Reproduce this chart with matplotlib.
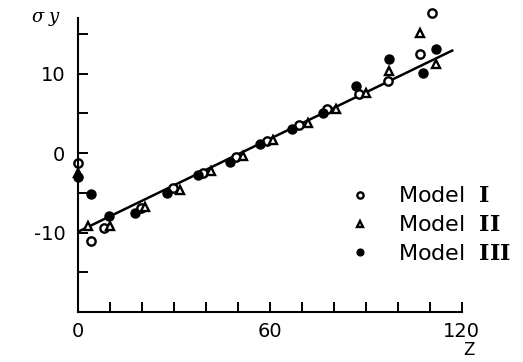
import numpy as np
import matplotlib.pyplot as plt
from matplotlib.ticker import MultipleLocator, FixedLocator

plt.rcParams['mathtext.fontset'] = 'dejavuserif'
plt.rcParams['axes.unicode_minus'] = False

# values
z_m1 = [0, 4, 8, 19.7, 29.7, 39, 49.4, 59, 69, 78, 87.8, 97, 107, 110.6]
s_m1 = [-1.2, -11.0, -9.4, -6.9, -4.4, -2.5, -0.5, 1.5, 3.5, 5.5, 7.4, 9.1, 12.5, 17.6]

z_m2 = [0, 3, 10, 21, 31.9, 41.6, 51.6, 61, 72, 80.6, 90, 97.3, 107, 112]
s_m2 = [-2.5, -9.2, -9.2, -6.75, -4.6, -2.25, -0.4, 1.6, 3.75, 5.6, 7.6, 10.4, 15.1, 11.2]

z_m3 = [0, 4, 9.7, 17.8, 27.8, 37.5, 47.5, 57, 67, 76.6, 86.9, 97.3, 108, 112]
s_m3 = [-3.0, -5.1, -7.9, -7.5, -5.0, -2.75, -1.1, 1.1, 3.1, 5.1, 8.5, 11.9, 10.1, 13.1]

# fitted line
fit_intercept = -9.9
fit_slope = 0.195
fit_z = [0, 117]

labels = [r"Model  $\mathbf{I}$", r"Model  $\mathbf{II}$", r"Model  $\mathbf{III}$"]

fig = plt.figure(figsize=(5.23, 3.62), dpi=100)
ax = fig.add_axes([0.149, 0.138, 0.734, 0.812])

zz = np.array(fit_z)
ax.plot(zz, fit_intercept + fit_slope * zz, color='black', lw=1.8)

ax.plot(z_m1, s_m1, 'o', ls='none', mfc='white', mec='black', ms=6, mew=1.7,
        clip_on=False, label=labels[0])
ax.plot(z_m2, s_m2, '^', ls='none', mfc='white', mec='black', ms=6, mew=1.7,
        clip_on=False, label=labels[1])
ax.plot(z_m3, s_m3, 'o', ls='none', mfc='black', mec='black', ms=6.5,
        clip_on=False, label=labels[2])

ax.set_xlim(0, 120)
ax.set_ylim(-20, 17)

for s in ['top', 'right']:
    ax.spines[s].set_visible(False)
for s in ['left', 'bottom']:
    ax.spines[s].set_linewidth(1.5)

ax.xaxis.set_major_locator(FixedLocator([0, 60, 120]))
ax.xaxis.set_minor_locator(MultipleLocator(10))
ax.yaxis.set_major_locator(FixedLocator([-10, 0, 10]))
ax.yaxis.set_minor_locator(MultipleLocator(5))
ax.tick_params(which='both', direction='in', length=7, width=1.4, labelsize=14)
ax.tick_params(axis='x', pad=7)
ax.tick_params(axis='y', pad=9)

leg = ax.legend(loc='upper left', bbox_to_anchor=(349 / 523, 0.485),
                bbox_transform=fig.transFigure, frameon=False, fontsize=16,
                borderpad=0, borderaxespad=0, handlelength=1, handletextpad=1.2,
                labelspacing=0.4, markerscale=0.75)

fig.text(0.06, 0.94, r"$\sigma\ y$", fontsize=13)
fig.text(0.885, 0.02, "Z", fontsize=12)

fig.savefig("out.png", dpi=100)
